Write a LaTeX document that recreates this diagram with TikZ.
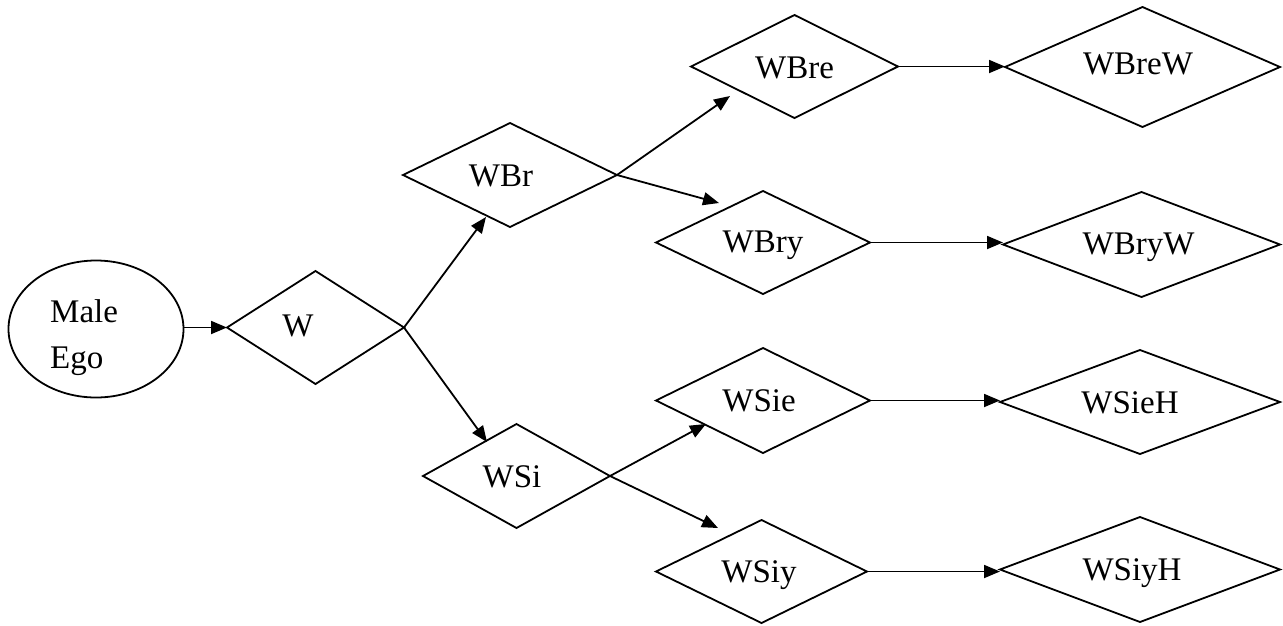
\documentclass[tikz,border=0pt]{standalone}
\usepackage{fontspec}
\setmainfont{Liberation Serif}
\usetikzlibrary{shapes.geometric,arrows.meta}
\begin{document}
\begin{tikzpicture}[x=1pt,y=-1pt,
  kin/.style={draw,diamond,inner sep=0pt,outer sep=0pt,line width=1.8pt},
  lbl/.style={anchor=base,inner sep=0pt,font=\fontsize{33}{40}\selectfont},
  link/.style={line width=1.8pt,-{Triangle[length=16pt,width=13pt]}}]
\useasboundingbox (0,0) rectangle (1283,625);

% ego
\node[draw,ellipse,line width=1.8pt,inner sep=0pt,outer sep=0pt,
      minimum width=175pt,minimum height=137pt] (ego) at (96,329) {};
\node[lbl,anchor=base west] (egoA) at (50,322) {Male};
\node[lbl,anchor=base west] (egoB) at (50,368) {Ego};

% relatives (diamonds)
\node[kin,minimum width=177pt,minimum height=113pt] (W)     at (315.5,327.5) {};
\node[kin,minimum width=214pt,minimum height=104pt] (WBr)   at (510,175) {};
\node[kin,minimum width=187pt,minimum height=104pt] (WSi)   at (516.5,476) {};
\node[kin,minimum width=207pt,minimum height=103pt] (WBre)  at (794.5,66.5) {};
\node[kin,minimum width=275pt,minimum height=120pt] (WBreW) at (1142.5,67) {};
\node[kin,minimum width=214pt,minimum height=103pt] (WBry)  at (763,242.5) {};
\node[kin,minimum width=277pt,minimum height=105pt] (WBryW) at (1141.5,244.5) {};
\node[kin,minimum width=214pt,minimum height=105pt] (WSie)  at (763,400.5) {};
\node[kin,minimum width=280pt,minimum height=104pt] (WSieH) at (1140,402) {};
\node[kin,minimum width=211pt,minimum height=103pt] (WSiy)  at (761.5,571.5) {};
\node[kin,minimum width=280pt,minimum height=105pt] (WSiyH) at (1140,569.5) {};

% labels
\node[lbl] (tW)     at (298,336)    {W};
\node[lbl] (tWBr)   at (501,186)    {WBr};
\node[lbl] (tWSi)   at (512,487)    {WSi};
\node[lbl] (tWBre)  at (794.5,78)   {WBre};
\node[lbl] (tWBreW) at (1138,74)    {WBreW};
\node[lbl] (tWBry)  at (763,252.5)  {WBry};
\node[lbl] (tWBryW) at (1138.5,254) {WBryW};
\node[lbl] (tWSie)  at (759,411)    {WSie};
\node[lbl] (tWSieH) at (1130,413)   {WSieH};
\node[lbl] (tWSiy)  at (759,582.5)  {WSiy};
\node[lbl] (tWSiyH) at (1132,580.5) {WSiyH};

% arrow tips of the branching links
\coordinate (pWBr)  at (486,217);
\coordinate (pWSi)  at (487,442);
\coordinate (pWBre) at (730,96);
\coordinate (pWBry) at (719,203);
\coordinate (pWSie) at (706,424);
\coordinate (pWSiy) at (718,528);

% links
\draw[link] (ego.east |- W.west) -- (W.west);
\draw[link] (W.east) -- (pWBr);
\draw[link] (W.east) -- (pWSi);
\draw[link] (WBr.east) -- (pWBre);
\draw[link] (WBr.east) -- (pWBry);
\draw[link] (WSi.east) -- (pWSie);
\draw[link] (WSi.east) -- (pWSiy);
\draw[link] (WBre.east) -- (WBre.east -| WBreW.west);
\draw[link] (WBry.east) -- (WBry.east -| WBryW.west);
\draw[link] (WSie.east) -- (WSie.east -| WSieH.west);
\draw[link] (WSiy.east) -- (WSiy.east -| WSiyH.west);
\end{tikzpicture}
\end{document}
